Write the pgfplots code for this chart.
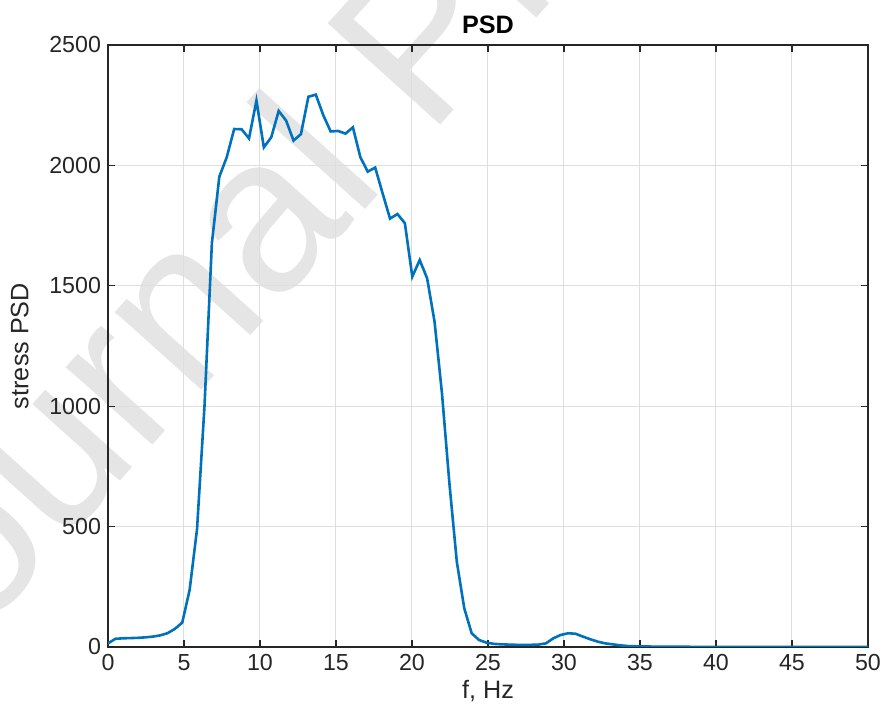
\documentclass[border=0pt]{standalone}
\usepackage{fontspec}
\setmainfont{Liberation Sans}
\usepackage{pgfplots}
\pgfplotsset{compat=1.18}
\definecolor{mblue}{HTML}{0072BD}
\definecolor{axgray}{HTML}{262626}
\begin{document}
\begin{tikzpicture}[x=1pt,y=1pt]
\useasboundingbox (-54,-35) rectangle (388.5,323.5);
\node[rotate=48, text=black!10, font=\fontsize{110}{110}\selectfont, anchor=west] at (-125,-20) {Journal Pre-proof};
\begin{axis}[
  at={(0,0)}, anchor=south west,
  scale only axis, width=380pt, height=301pt,
  xmin=0, xmax=50, ymin=0, ymax=2500,
  xtick={0,5,...,50}, ytick={0,500,...,2500},
  grid=major, major grid style={black!13, line width=0.5pt},
  axis line style={axgray, line width=0.6pt},
  tick style={axgray, line width=0.6pt},
  tick align=inside, major tick length=3.5pt,
  xtick pos=both, ytick pos=both,
  yticklabel pos=left, xticklabel pos=bottom,
  tick label style={font=\fontsize{11.6}{13}\selectfont, text=black!85},
  /pgf/number format/assume math mode=true,
  /pgf/number format/1000 sep={},
  scaled y ticks=false,
  xlabel={f, Hz}, ylabel={stress PSD},
  label style={font=\fontsize{12.6}{14}\selectfont, text=black!85},
  xlabel style={yshift=2pt},
  ylabel style={yshift=3.5pt},
  title={\textbf{PSD}},
  title style={font=\fontsize{12.6}{14}\selectfont, yshift=-4pt},
]
\addplot[mblue, line width=1.3pt] coordinates {
(0.000,15) (0.488,34) (0.977,36) (1.465,37) (1.953,38) (2.441,40) (2.930,43) (3.418,48)
(3.906,57) (4.395,75) (4.883,101) (5.371,237) (5.859,490) (6.348,1000) (6.836,1678)
(7.324,1953) (7.813,2034) (8.301,2151) (8.789,2150) (9.277,2112) (9.766,2269) (10.254,2075)
(10.742,2117) (11.230,2226) (11.719,2186) (12.207,2103) (12.695,2130) (13.184,2285)
(13.672,2294) (14.160,2209) (14.648,2141) (15.137,2143) (15.625,2132) (16.113,2158)
(16.602,2034) (17.090,1974) (17.578,1991) (18.066,1884) (18.555,1779) (19.043,1798)
(19.531,1760) (20.020,1538) (20.508,1607) (20.996,1531) (21.484,1351) (21.973,1053)
(22.461,680) (22.949,354) (23.438,161) (23.926,57) (24.414,29) (24.902,18) (25.391,13)
(25.879,11) (26.367,10) (26.855,9) (27.344,9) (27.832,9) (28.320,10) (28.809,15)
(29.297,36) (29.785,50) (30.273,57) (30.762,55) (31.250,43) (31.738,32) (32.227,22)
(32.715,15) (33.203,11) (33.691,7) (34.180,4) (34.668,3) (35.156,2) (35.645,2)
(36.133,1) (36.621,1) (37.109,1) (37.598,1) (38.086,1) (38.574,0.5) (39.063,0.5)
(40.039,0.4) (41.016,0.3) (41.992,0.3) (42.969,0.2) (43.945,0.2) (44.922,0.2)
(45.898,0.1) (46.875,0.1) (47.852,0.1) (48.828,0.1) (49.805,0.1) (50.000,0.1)
};
\end{axis}
\end{tikzpicture}
\end{document}
